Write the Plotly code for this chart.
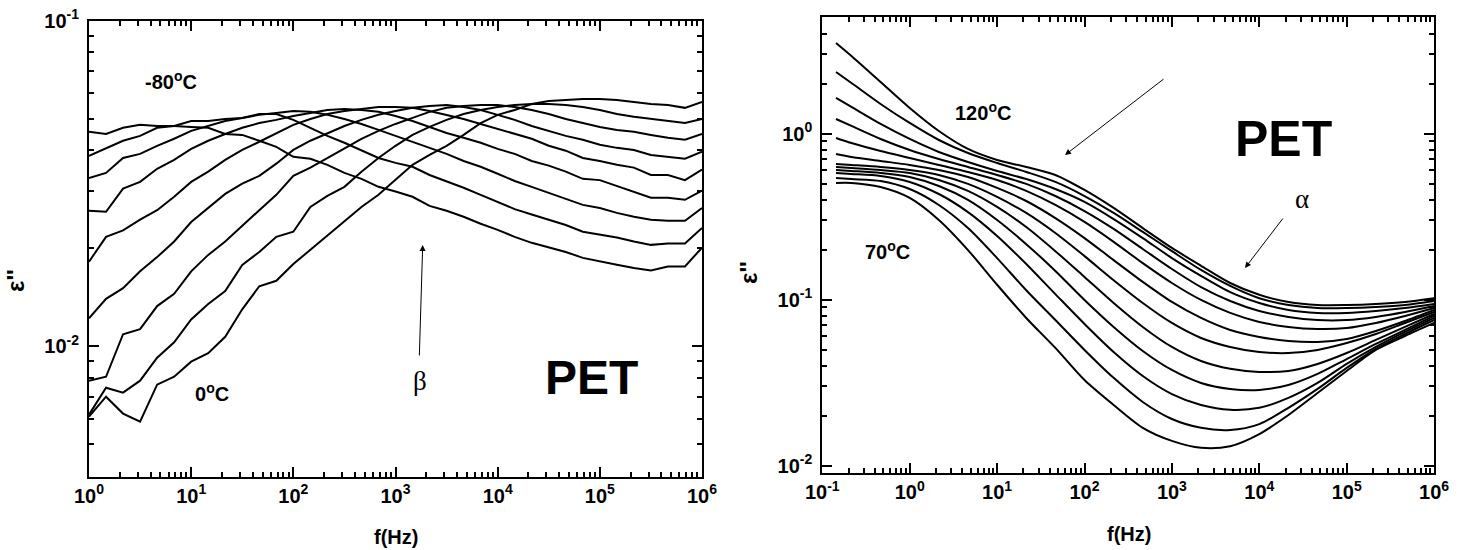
import plotly.graph_objects as go

# ---------------- left panel: beta relaxation, -80 .. 0 C ----------------
f_left = [1, 1.468, 2.154, 3.162, 4.642, 6.813,
          10, 14.68, 21.54, 31.62, 46.42, 68.13,
          100, 146.8, 215.4, 316.2, 464.2, 681.3,
          1000, 1468, 2154, 3162, 4642, 6813,
          1e4, 1.468e4, 2.154e4, 3.162e4, 4.642e4, 6.813e4,
          1e5, 1.468e5, 2.154e5, 3.162e5, 4.642e5, 6.813e5, 1e6]

eps_m80 = [0.0456, 0.0449, 0.0469, 0.0479, 0.0475, 0.0475, 0.0472, 0.0469, 0.0449, 0.0446, 0.0428, 0.0410,
           0.0382, 0.0377, 0.0361, 0.0341, 0.0327, 0.0309, 0.0299, 0.0288, 0.0270, 0.0261, 0.0250, 0.0238,
           0.0228, 0.0217, 0.0208, 0.0201, 0.0195, 0.0187, 0.0182, 0.0178, 0.0174, 0.0171, 0.0176, 0.0176, 0.0201]
eps_m70 = [0.0385, 0.0407, 0.0428, 0.0443, 0.0469, 0.0475, 0.0492, 0.0492, 0.0499, 0.0503, 0.0517, 0.0517,
           0.0496, 0.0469, 0.0443, 0.0422, 0.0401, 0.0379, 0.0366, 0.0356, 0.0336, 0.0322, 0.0307, 0.0292,
           0.0278, 0.0264, 0.0254, 0.0245, 0.0236, 0.0225, 0.0221, 0.0216, 0.0210, 0.0205, 0.0207, 0.0207, 0.0231]
eps_m60 = [0.0329, 0.0341, 0.0379, 0.0390, 0.0413, 0.0434, 0.0459, 0.0475, 0.0492, 0.0503, 0.0514, 0.0521,
           0.0528, 0.0525, 0.0514, 0.0499, 0.0482, 0.0462, 0.0443, 0.0425, 0.0407, 0.0390, 0.0371, 0.0356,
           0.0339, 0.0322, 0.0309, 0.0296, 0.0284, 0.0272, 0.0266, 0.0257, 0.0250, 0.0245, 0.0243, 0.0243, 0.0266]
eps_m50 = [0.0261, 0.0259, 0.0305, 0.0320, 0.0351, 0.0374, 0.0404, 0.0428, 0.0449, 0.0469, 0.0485, 0.0496,
           0.0510, 0.0521, 0.0532, 0.0536, 0.0532, 0.0525, 0.0510, 0.0492, 0.0472, 0.0452, 0.0437, 0.0422,
           0.0404, 0.0390, 0.0371, 0.0359, 0.0344, 0.0327, 0.0324, 0.0311, 0.0299, 0.0286, 0.0286, 0.0282, 0.0301]
eps_m40 = [0.0182, 0.0217, 0.0227, 0.0245, 0.0262, 0.0288, 0.0320, 0.0344, 0.0374, 0.0401, 0.0425, 0.0452,
           0.0479, 0.0499, 0.0517, 0.0528, 0.0536, 0.0543, 0.0543, 0.0540, 0.0528, 0.0514, 0.0499, 0.0482,
           0.0465, 0.0449, 0.0434, 0.0413, 0.0399, 0.0379, 0.0371, 0.0361, 0.0354, 0.0336, 0.0336, 0.0324, 0.0349]
eps_m30 = [0.0122, 0.0140, 0.0151, 0.0170, 0.0188, 0.0210, 0.0241, 0.0266, 0.0294, 0.0316, 0.0334, 0.0364,
           0.0401, 0.0428, 0.0452, 0.0475, 0.0496, 0.0514, 0.0528, 0.0540, 0.0547, 0.0551, 0.0543, 0.0532,
           0.0514, 0.0496, 0.0475, 0.0459, 0.0443, 0.0431, 0.0416, 0.0407, 0.0401, 0.0387, 0.0382, 0.0377, 0.0396]
eps_m20 = [0.00785, 0.00807, 0.0109, 0.0113, 0.0133, 0.0145, 0.0170, 0.0191, 0.0210, 0.0235, 0.0262, 0.0292,
           0.0334, 0.0354, 0.0379, 0.0404, 0.0434, 0.0459, 0.0482, 0.0503, 0.0525, 0.0540, 0.0547, 0.0551,
           0.0551, 0.0543, 0.0532, 0.0517, 0.0499, 0.0485, 0.0472, 0.0462, 0.0456, 0.0446, 0.0437, 0.0431, 0.0449]
eps_m10 = [0.00617, 0.00747, 0.00721, 0.00785, 0.00923, 0.0103, 0.0121, 0.0135, 0.0148, 0.0178, 0.0195, 0.0217,
           0.0225, 0.0268, 0.0290, 0.0309, 0.0344, 0.0379, 0.0413, 0.0446, 0.0472, 0.0496, 0.0517, 0.0532,
           0.0543, 0.0551, 0.0555, 0.0555, 0.0551, 0.0543, 0.0532, 0.0517, 0.0507, 0.0499, 0.0492, 0.0485, 0.0499]
eps_0 = [0.00609, 0.00701, 0.00622, 0.00587, 0.00763, 0.00807, 0.00898, 0.00953, 0.0107, 0.0130, 0.0153, 0.0159,
         0.0179, 0.0198, 0.0219, 0.0243, 0.0268, 0.0292, 0.0324, 0.0361, 0.0387, 0.0413, 0.0446, 0.0485,
         0.0514, 0.0532, 0.0555, 0.0567, 0.0571, 0.0575, 0.0575, 0.0571, 0.0563, 0.0555, 0.0551, 0.0540, 0.0563]

left_series = [eps_m80, eps_m70, eps_m60, eps_m50, eps_m40, eps_m30, eps_m20, eps_m10, eps_0]

# ---------------- right panel: alpha relaxation, 70 .. 120 C ----------------
f_right = [0.1435, 0.2154, 0.4642, 1, 2.154, 4.642, 10, 21.54, 46.42, 100, 215.4, 464.2,
           1000, 2154, 4642, 1e4, 2.154e4, 4.642e4, 1e5, 2.154e5, 4.642e5, 1e6]

eps_r01 = [0.505, 0.505, 0.477, 0.410, 0.302, 0.199, 0.123, 0.0776, 0.0512, 0.0328, 0.0232, 0.0169,
           0.0141, 0.0128, 0.0131, 0.0155, 0.0202, 0.0274, 0.0372, 0.0498, 0.0604, 0.0724]
eps_r02 = [0.541, 0.533, 0.519, 0.464, 0.372, 0.270, 0.178, 0.114, 0.0754, 0.0498, 0.0338, 0.0242,
           0.0191, 0.0169, 0.0164, 0.0178, 0.0223, 0.0290, 0.0388, 0.0505, 0.0621, 0.0754]
eps_r03 = [0.580, 0.572, 0.556, 0.512, 0.433, 0.337, 0.242, 0.164, 0.108, 0.0714, 0.0484, 0.0347,
           0.0270, 0.0232, 0.0217, 0.0223, 0.0256, 0.0315, 0.0410, 0.0519, 0.0639, 0.0776]
eps_r04 = [0.604, 0.596, 0.580, 0.548, 0.484, 0.399, 0.302, 0.216, 0.149, 0.0996, 0.0685, 0.0491,
           0.0377, 0.0315, 0.0290, 0.0286, 0.0306, 0.0357, 0.0439, 0.0541, 0.0657, 0.0798]
eps_r05 = [0.630, 0.621, 0.604, 0.580, 0.526, 0.452, 0.362, 0.274, 0.196, 0.137, 0.0955, 0.0685,
           0.0519, 0.0427, 0.0383, 0.0367, 0.0372, 0.0410, 0.0477, 0.0572, 0.0685, 0.0820]
eps_r06 = [0.657, 0.648, 0.630, 0.604, 0.564, 0.498, 0.416, 0.333, 0.252, 0.183, 0.131, 0.0955,
           0.0724, 0.0588, 0.0519, 0.0484, 0.0477, 0.0498, 0.0548, 0.0621, 0.0724, 0.0843]
eps_r07 = [0.755, 0.724, 0.685, 0.648, 0.604, 0.548, 0.471, 0.393, 0.310, 0.235, 0.173, 0.128,
           0.0969, 0.0776, 0.0657, 0.0596, 0.0564, 0.0556, 0.0580, 0.0648, 0.0744, 0.0867]
eps_r08 = [0.942, 0.879, 0.787, 0.714, 0.648, 0.588, 0.526, 0.452, 0.372, 0.294, 0.223, 0.166,
           0.126, 0.0996, 0.0832, 0.0734, 0.0685, 0.0666, 0.0675, 0.0724, 0.0798, 0.0891]
eps_r09 = [1.226, 1.113, 0.929, 0.798, 0.704, 0.630, 0.564, 0.498, 0.421, 0.342, 0.267, 0.202,
           0.153, 0.119, 0.0982, 0.0855, 0.0787, 0.0754, 0.0754, 0.0787, 0.0843, 0.0916]
eps_r10 = [1.641, 1.448, 1.144, 0.929, 0.776, 0.675, 0.596, 0.533, 0.464, 0.388, 0.306, 0.235,
           0.178, 0.139, 0.111, 0.0955, 0.0867, 0.0832, 0.0832, 0.0855, 0.0891, 0.0942]
eps_r11 = [2.353, 2.020, 1.510, 1.160, 0.916, 0.765, 0.666, 0.588, 0.512, 0.421, 0.333, 0.256,
           0.196, 0.151, 0.121, 0.102, 0.0929, 0.0891, 0.0891, 0.0904, 0.0929, 0.0982]
eps_r12 = [3.519, 2.938, 2.048, 1.428, 1.038, 0.809, 0.694, 0.630, 0.564, 0.458, 0.357, 0.270,
           0.205, 0.160, 0.126, 0.107, 0.0969, 0.0929, 0.0929, 0.0942, 0.0969, 0.102]

right_series = [eps_r01, eps_r02, eps_r03, eps_r04, eps_r05, eps_r06,
                eps_r07, eps_r08, eps_r09, eps_r10, eps_r11, eps_r12]

# ---------------- tick definitions ----------------
left_x_major = [1, 10, 100, 1e3, 1e4, 1e5, 1e6]
left_x_labels = ["10<sup>0</sup>", "10<sup>1</sup>", "10<sup>2</sup>", "10<sup>3</sup>",
                 "10<sup>4</sup>", "10<sup>5</sup>", "10<sup>6</sup>"]
left_y_major = [0.01, 0.1]
left_y_labels = ["10<sup>-2</sup>", "10<sup>-1</sup>"]
right_x_major = [0.1, 1, 10, 100, 1e3, 1e4, 1e5, 1e6]
right_x_labels = ["10<sup>-1</sup>", "10<sup>0</sup>", "10<sup>1</sup>", "10<sup>2</sup>", "10<sup>3</sup>",
                  "10<sup>4</sup>", "10<sup>5</sup>", "10<sup>6</sup>"]
right_y_major = [0.01, 0.1, 1]
right_y_labels = ["10<sup>-2</sup>", "10<sup>-1</sup>", "10<sup>0</sup>"]

mult = [2, 3, 4, 5, 6, 7, 8, 9]
left_x_minor = [m * 10 ** d for d in range(0, 6) for m in mult]
left_y_minor = [m * 10 ** d for d in (-3, -2) for m in mult if 0.0045 < m * 10 ** d < 0.1]
right_x_minor = [m * 10 ** d for d in range(-1, 6) for m in mult]
right_y_minor = [m * 10 ** d for d in (-2, -1, 0) for m in mult if m * 10 ** d < 5]

W, H = 1466, 550
FONT = "Liberation Sans, Arial, Helvetica, sans-serif"
tick_font = dict(family=FONT, size=20, color="black", weight="bold")


def log_axis(domain, rng, major, labels, minor, anchor, standoff):
    return dict(
        type="log", domain=domain, range=rng, anchor=anchor, automargin=False,
        showline=True, linecolor="black", linewidth=2, mirror="ticks",
        ticks="inside", ticklen=10, tickwidth=1.5, tickcolor="black",
        tickmode="array", tickvals=major, ticktext=labels,
        tickfont=tick_font, ticklabelstandoff=standoff,
        showgrid=False, zeroline=False,
        minor=dict(ticks="inside", ticklen=5, tickwidth=1.5, tickcolor="black",
                   tickmode="array", tickvals=minor, showgrid=False),
    )


fig = go.Figure()

for ys in left_series:
    fig.add_trace(go.Scatter(x=f_left, y=ys, mode="lines", xaxis="x", yaxis="y",
                             line=dict(color="black", width=2), showlegend=False,
                             hoverinfo="skip"))

for ys in right_series:
    fig.add_trace(go.Scatter(x=f_right, y=ys, mode="lines", xaxis="x2", yaxis="y2",
                             line=dict(color="black", width=2, shape="spline", smoothing=0.8),
                             showlegend=False, hoverinfo="skip"))


def px(x):
    return x / W


def py(y):
    return 1 - y / H


annotations = []


def label(x, y, text, size=20, family=FONT, weight="bold", angle=0):
    annotations.append(dict(xref="paper", yref="paper", x=px(x), y=py(y), text=text,
                            showarrow=False, xanchor="center", yanchor="middle",
                            textangle=angle,
                            font=dict(family=family, size=size, color="black", weight=weight)))


def arrow(x_head, y_head, x_tail, y_tail):
    annotations.append(dict(xref="paper", yref="paper", x=px(x_head), y=py(y_head),
                            ax=x_tail - x_head, ay=y_tail - y_head, axref="pixel", ayref="pixel",
                            text="", showarrow=True, arrowhead=2, arrowsize=1.2,
                            arrowwidth=1, arrowcolor="black"))


# panel texts
label(171, 80, "-80<sup>o</sup>C")
label(212, 392, "0<sup>o</sup>C")
label(420, 381, "β", size=27, family="Liberation Serif, Times New Roman, serif", weight="normal")
label(591, 377, "PET", size=48)
label(983, 112, "120<sup>o</sup>C")
label(888, 251, "70<sup>o</sup>C")
label(1283, 139, "PET", size=50)
label(1302, 199, "α", size=27, family="Liberation Serif, Times New Roman, serif", weight="normal")

# axis titles
label(15, 281, "ε''", size=24, angle=-90)
label(748, 273, "ε''", size=24, angle=-90)
label(396, 537, "f(Hz)")
label(1129, 534, "f(Hz)")

# arrows
arrow(422.7, 245, 419.3, 357)
arrow(1065, 155, 1165, 78)
arrow(1245, 268, 1284, 217)

fig.update_layout(
    width=W, height=H, autosize=False,
    margin=dict(l=0, r=0, t=0, b=0, pad=0, autoexpand=False),
    paper_bgcolor="white", plot_bgcolor="white",
    xaxis=log_axis([89 / W, 702 / W], [0, 6], left_x_major, left_x_labels, left_x_minor, "y", 0),
    yaxis=log_axis([1 - 476.7 / H, 1 - 20.7 / H], [-2.4, -1], left_y_major, left_y_labels,
                   left_y_minor, "x", 4),
    xaxis2=log_axis([822.3 / W, 1434.1 / W], [-1, 6], right_x_major, right_x_labels, right_x_minor, "y2", 0),
    yaxis2=log_axis([1 - 473.3 / H, 1 - 17.3 / H], [-2.046, 0.701], right_y_major, right_y_labels,
                    right_y_minor, "x2", 4),
    annotations=annotations,
)

fig.write_html("out.html")
